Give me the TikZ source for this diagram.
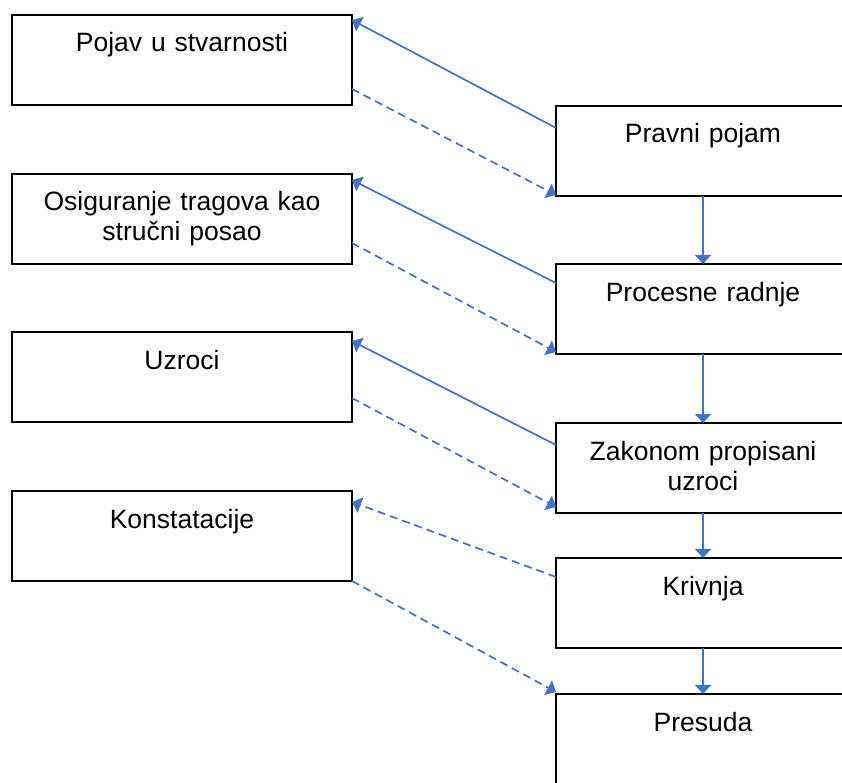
\documentclass[tikz,border=0pt]{standalone}
\usepackage{fontspec}
\setmainfont{Liberation Sans}
\usepackage{xcolor}
\definecolor{linkblue}{HTML}{4472C4}
\usetikzlibrary{positioning, arrows.meta}

\begin{document}
\begin{tikzpicture}[x=1pt, y=1pt, node distance=69pt,
	left box/.style={draw, line width=1.8pt, outer sep=0pt, text width=340pt, align=center, inner xsep=0pt, inner ysep=7pt, text height=30pt, text depth=46pt, font=\fontsize{26.5}{30}\selectfont},
	right box/.style={left box, text width=294pt},
	solid link/.style={draw=linkblue, line width=1.7pt, -{Triangle[length=9pt,width=16pt]}},
	dashed link/.style={solid link, dash pattern=on 8pt off 5pt}]
		
		\clip (0,0) rectangle (842,-783);
		
		% Left column
		\node[left box] (pojav) at (182,-60) {Pojav u stvarnosti};
		\node[left box] (osiguranje) [below=69pt of pojav] {Osiguranje tragova kao\\ stručni posao};
		\node[left box] (uzroci) [below=68pt of osiguranje] {Uzroci};
		\node[left box] (konstatacije) [below=69pt of uzroci] {Konstatacije};
		
		% Right column
		\node[right box] (pravni) at (703,-151) {Pravni pojam};
		\node[right box] (procesne) [below=68pt of pravni] {Procesne radnje};
		\node[right box] (zakonom) [below=69pt of procesne] {Zakonom propisani\\ uzroci};
		\node[right box] (krivnja) [below=45pt of zakonom] {Krivnja};
		\node[right box] (presuda) [below=46pt of krivnja] {Presuda};
		
		% Vertical flow
		\draw[solid link] (pravni.south) -- (procesne.north);
		\draw[solid link] (procesne.south) -- (zakonom.north);
		\draw[solid link] (zakonom.south) -- (krivnja.north);
		\draw[solid link] (krivnja.south) -- (presuda.north);
		
		% Links between columns
		\draw[solid link] ([yshift=-22pt]pravni.north west) -- ([yshift=-5pt]pojav.north east);
		\draw[dashed link] ([yshift=16pt]pojav.south east) -- ([yshift=1pt]pravni.south west);
		\draw[solid link] ([yshift=-19pt]procesne.north west) -- ([yshift=-6pt]osiguranje.north east);
		\draw[dashed link] ([yshift=21pt]osiguranje.south east) -- ([yshift=2pt]procesne.south west);
		\draw[solid link] ([yshift=-22pt]zakonom.north west) -- ([yshift=-9pt]uzroci.north east);
		\draw[dashed link] ([yshift=24pt]uzroci.south east) -- ([yshift=6pt]zakonom.south west);
		\draw[dashed link] ([yshift=-19pt]krivnja.north west) -- ([yshift=-11pt]konstatacije.north east);
		\draw[dashed link] (konstatacije.south east) -- ([yshift=2pt]presuda.north west);
	\end{tikzpicture}
\end{document}
